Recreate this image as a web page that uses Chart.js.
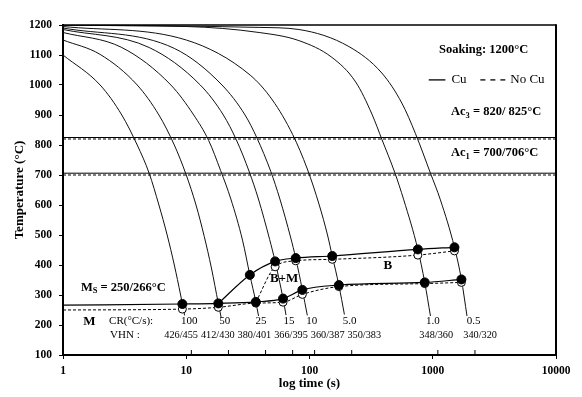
<!DOCTYPE html>
<html><head><meta charset="utf-8">
<script src="https://cdn.jsdelivr.net/npm/chart.js@4.4.0/dist/chart.umd.min.js"></script>
<style>html,body{margin:0;padding:0;background:#fff}#wrap{width:582px;height:397px}</style>
</head><body><div id="wrap"><canvas id="c" width="582" height="397"></canvas></div>
<script>
// ---- axis ticks ----
const yTicks = [100,200,300,400,500,600,700,800,900,1000,1100,1200];
const xTicks = [1,10,100,1000,10000];

// ---- cooling curves [time s, temperature °C] ----
const cr100 = [[1,1100],[2,1000],[3,900],[4,800],[5,706],[6,600],[7,500],[8,400],[9,300],[9.3,270],[9.7,232]];
const cr50  = [[1,1150],[2,1102],[4,1000],[6,900],[8,800],[10,700],[12,600],[14,495],[16,390],[18.2,272],[19.2,225]];
const cr25  = [[1,1175],[3,1125],[7.5,1000],[11.5,900],[15.2,815],[19,715],[23,620],[28.6,483],[32.8,367],[36.7,277],[38.6,230]];
const cr15  = [[1,1185],[5,1125],[13,1000],[20,900],[25.5,817],[32.5,710],[38.5,620],[47.5,485],[52.6,412],[61,288],[64.5,233]];
const cr10  = [[1,1190],[8,1122],[19.5,1000],[30,900],[37.3,825],[48.5,712],[57.5,620],[70.5,490],[77.3,423],[87.5,317],[96,232]];
const cr5   = [[1,1195],[10,1150],[33,1033],[50,950],[73,835],[96,720],[120,600],[140,500],[153,430],[173,333],[192,235]];
const cr1   = [[1,1199],[10,1195],[39,1175],[82,1148],[152,1092],[237,1010],[321,903],[388,817],[492,708],[582,617],[757,452],[861,342],[958,230]];
const cr05  = [[1,1199.5],[39,1192],[82,1185],[209,1128],[386,1040],[561,940],[724,838],[958,706],[1154,617],[1500,459],[1708,352],[1896,230]];

// ---- transformation start lines ----
const cuUpper   = [[18.2,272],[32.8,367],[52.6,412],[77.3,423],[153,430],[757,452],[1500,459]];
const cuLower   = [[1,266],[9.3,270],[18.2,272],[36.7,277],[61,288],[87.5,317],[173,333],[861,342],[1708,352]];
const noCuUpper = [[36.7,276],[52.6,394],[77.3,414],[153,419],[757,433],[1500,447]];
const noCuLower = [[1,250],[9.3,253],[18.2,259],[36.7,273],[61,276],[87.5,302],[173,328],[861,338],[1708,342]];

// ---- critical temperatures [Ac3, Ac1] ----
const acCu   = [825, 706];
const acNoCu = [820, 700];

// ---- cooling rate labels ----
const crLabels  = ['100','50','25','15','10','5.0','1.0','0.5'];
const crLabelT  = [10.6,20.5,40.5,68.2,104.2,211.6,1000,2148];
const vhnLabels = ['426/455','412/430','380/401','366/395','360/387','350/383','348/360','340/320'];
const vhnLabelT = [9.09,18.03,35.7,70.8,140.4,278.3,1067,2424];
const endTimes  = [11,22,44,73,110,220,1100,2200];

const FONT = '"Liberation Serif", "Times New Roman", serif';
const pts = a => a.map(([x,y]) => ({x,y}));

const curveSets = [cr100,cr50,cr25,cr15,cr10,cr5,cr1,cr05].map(c => ({
  data: pts(c), showLine:true, borderColor:'#111', borderWidth:1, pointRadius:0,
  cubicInterpolationMode:'monotone', fill:false
}));

function markerLine(arr, solid, skipFirst){
  return {
    data: pts(arr), showLine:true, borderColor:'#000', borderWidth: solid?1.2:1,
    borderDash: solid?[]:[3,2], cubicInterpolationMode:'monotone', fill:false,
    pointRadius: arr.map((_,i)=> (skipFirst && i===0)?0:(solid?4.5:4)),
    pointBackgroundColor: solid?'#000':'#fff', pointBorderColor:'#000', pointBorderWidth:1
  };
}
const acSets = [];
acCu.forEach(v => acSets.push({data:[{x:1,y:v},{x:10000,y:v}], showLine:true, borderColor:'#000', borderWidth:1, pointRadius:0}));
acNoCu.forEach(v => acSets.push({data:[{x:1,y:v},{x:10000,y:v}], showLine:true, borderColor:'#000', borderWidth:1, borderDash:[3,2], pointRadius:0}));

const datasets = [
  markerLine(cuUpper, true, true),
  markerLine(cuLower, true, true),
  markerLine(noCuUpper, false, false),
  markerLine(noCuLower, false, true),
  ...curveSets,
  ...acSets
];

function rich(ctx, parts, x, y, align, size, bold){
  const f = s => (bold?'bold ':'') + s + 'px ' + FONT;
  let w = 0;
  parts.forEach(p => { ctx.font = f(p[1]?size*0.68:size); w += ctx.measureText(p[0]).width; });
  let cx = align==='center' ? x - w/2 : (align==='right' ? x - w : x);
  ctx.textAlign = 'left'; ctx.textBaseline = 'middle'; ctx.fillStyle = '#000';
  parts.forEach(p => {
    ctx.font = f(p[1]?size*0.68:size);
    ctx.fillText(p[0], cx, p[1] ? y + size*0.3 : y);
    cx += ctx.measureText(p[0]).width;
  });
}

const annotations = [
  {parts:[['Soaking: 1200°C']], t:2588, T:1117, align:'center', size:12.5, bold:true},
  {parts:[['Ac'],['3',1],[' = 820/ 825°C']], t:3266, T:910, align:'center', size:12.5, bold:true},
  {parts:[['Ac'],['1',1],[' = 700/706°C']], t:3177, T:773, align:'center', size:12.5, bold:true},
  {parts:[['M'],['S',1],[' = 250/266°C']], t:3.09, T:325, align:'center', size:12.5, bold:true},
  {parts:[['M']], t:1.64, T:210, align:'center', size:13, bold:true},
  {parts:[['B+M']], t:62.2, T:353, align:'center', size:13, bold:true},
  {parts:[['B']], t:432, T:397, align:'center', size:13, bold:true},
  {parts:[['CR(°C/s):']], t:3.57, T:213, align:'center', size:11, bold:false},
  {parts:[['VHN :']], t:3.18, T:167, align:'center', size:11, bold:false}
];

const overlay = {
  id:'overlay',
  afterDraw(chart){
    const {ctx, chartArea:a, scales:{x, y}} = chart;
    ctx.save();
    ctx.strokeStyle = '#000'; ctx.setLineDash([]);
    ctx.lineWidth = 1.5;
    ctx.beginPath(); ctx.moveTo(a.left, a.top); ctx.lineTo(a.right, a.top); ctx.stroke();
    ctx.lineWidth = 2;
    ctx.beginPath(); ctx.moveTo(a.right, a.top-0.75); ctx.lineTo(a.right, a.bottom); ctx.stroke();
    ctx.lineWidth = 1;
    endTimes.forEach(t => {
      const px = x.getPixelForValue(t);
      ctx.beginPath(); ctx.moveTo(px, a.bottom); ctx.lineTo(px, a.bottom-5); ctx.stroke();
    });
    annotations.forEach(an => rich(ctx, an.parts, x.getPixelForValue(an.t), y.getPixelForValue(an.T), an.align, an.size, an.bold));
    crLabels.forEach((s,i) => rich(ctx, [[s]], x.getPixelForValue(crLabelT[i]), y.getPixelForValue(213), 'center', 11, false));
    vhnLabels.forEach((s,i) => rich(ctx, [[s]], x.getPixelForValue(vhnLabelT[i]), y.getPixelForValue(167), 'center', 10.3, false));
    const ly = y.getPixelForValue(1017);
    ctx.lineWidth = 1.3;
    ctx.beginPath(); ctx.moveTo(x.getPixelForValue(928), ly); ctx.lineTo(x.getPixelForValue(1267), ly); ctx.stroke();
    rich(ctx, [['Cu']], x.getPixelForValue(1417), ly, 'left', 13, false);
    ctx.setLineDash([5,5]);
    ctx.beginPath(); ctx.moveTo(x.getPixelForValue(2434), ly); ctx.lineTo(x.getPixelForValue(3879), ly); ctx.stroke();
    ctx.setLineDash([]);
    rich(ctx, [['No Cu']], x.getPixelForValue(4256), ly, 'left', 13, false);
    ctx.restore();
  }
};

new Chart(document.getElementById('c'), {
  type:'scatter',
  data:{datasets},
  options:{
    responsive:false, animation:false, devicePixelRatio:1,
    layout:{padding:{top:25, right:26, bottom:0, left:0}},
    plugins:{legend:{display:false}, tooltip:{enabled:false}},
    scales:{
      x:{
        type:'logarithmic', min:1, max:10000,
        afterBuildTicks: s => { s.ticks = xTicks.map(v => ({value:v})); },
        afterFit: s => { s.height = 42; },
        ticks:{callback: v => String(v), font:{family:FONT, size:11.5, weight:'bold'}, color:'#000', padding:5, maxRotation:0, autoSkip:false},
        grid:{display:true, drawOnChartArea:false, drawTicks:true, tickLength:4, color:'#000', lineWidth:1},
        border:{display:true, color:'#000', width:2},
        title:{display:true, text:'log time (s)', color:'#000', font:{family:FONT, size:13, weight:'bold'}, padding:{top:0, bottom:6}}
      },
      y:{
        type:'linear', min:100, max:1200,
        afterBuildTicks: s => { s.ticks = yTicks.map(v => ({value:v})); },
        afterFit: s => { s.width = 63; },
        ticks:{callback: v => String(v), font:{family:FONT, size:11.5, weight:'bold'}, color:'#000', padding:7},
        grid:{display:true, drawOnChartArea:false, drawTicks:true, tickLength:4, color:'#000', lineWidth:1},
        border:{display:true, color:'#000', width:2},
        title:{display:true, text:'Temperature (°C)', color:'#000', font:{family:FONT, size:13, weight:'bold'}, padding:{top:12, bottom:0}}
      }
    }
  },
  plugins:[overlay]
});
</script>
</body></html>
